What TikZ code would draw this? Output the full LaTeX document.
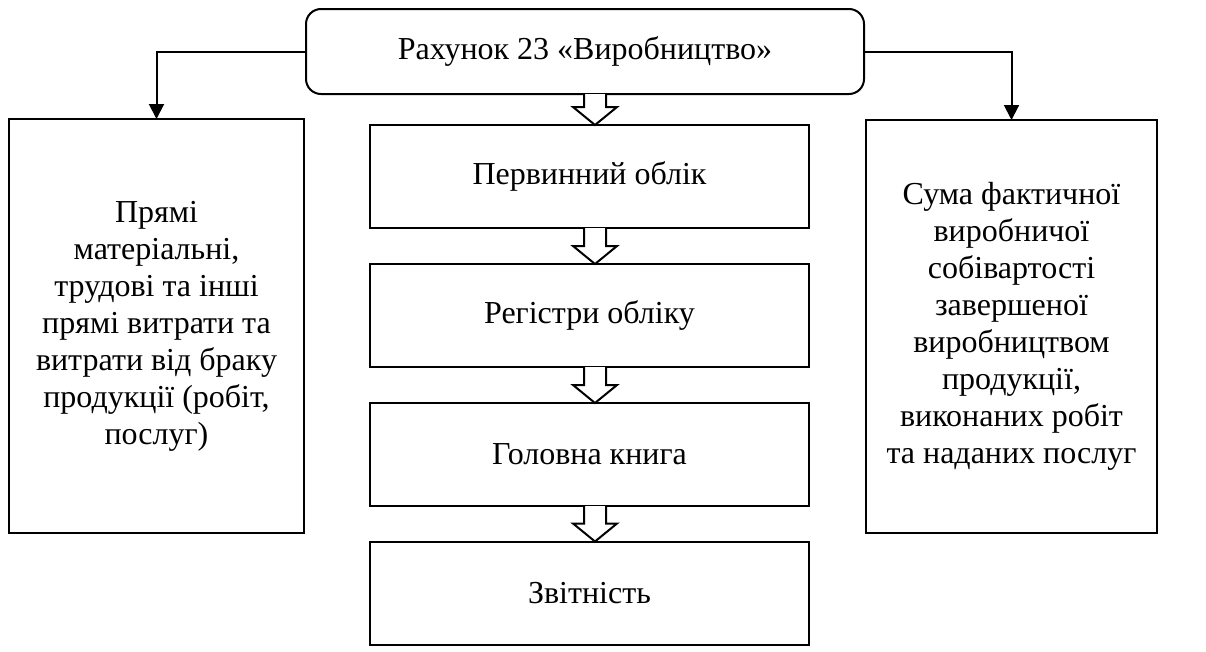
\documentclass[tikz,border=0pt]{standalone}
\usepackage{fontspec}
\setmainfont{Liberation Serif}
\usetikzlibrary{arrows.meta,calc}
\tikzset{
  box/.style={draw, line width=2pt, rectangle, inner sep=0pt, outer sep=0pt, align=center, font=\fontsize{32}{37}\selectfont},
  conn/.style={line width=2pt, -{Triangle[length=15pt,width=15pt]}},
  blockarr/.style={draw, line width=2pt, fill=white, line join=miter},
}
\begin{document}
\begin{tikzpicture}[x=1pt,y=-1pt]
\useasboundingbox (0,0) rectangle (1206,651);
\node[box, rounded corners=15pt, minimum width=558, minimum height=85] (top) at (585,51.5) {Рахунок 23 «Виробництво»};
\node[box, minimum width=295, minimum height=414] (left) at (156.5,326) {Прямі\\матеріальні,\\трудові та інші\\прямі витрати та\\витрати від браку\\продукції (робіт,\\послуг)};
\node[box, minimum width=291, minimum height=413] (right) at (1011.5,326.5) {Сума фактичної\\виробничої\\собівартості\\завершеної\\виробництвом\\продукції,\\виконаних робіт\\та наданих послуг};
\node[box, minimum width=439, minimum height=103] (p1) at (589.5,176.5) {Первинний облік};
\node[box, minimum width=439, minimum height=103] (p2) at (589.5,315.5) {Регістри обліку};
\node[box, minimum width=439, minimum height=103] (p3) at (589.5,454.5) {Головна книга};
\node[box, minimum width=439, minimum height=103] (p4) at (589.5,593) {Звітність};
\draw[conn] (top.west) -| (left.north);
\draw[conn] (top.east) -| (right.north);
\foreach \a/\b in {top/p1,p1/p2,p2/p3,p3/p4}{
  \path let \p1=(\a.south), \p2=(\b.north) in
    coordinate (s) at (595,\y1)
    coordinate (t) at (595,\y2);
  \draw[blockarr] ($(s)+(-11,0)$) -- ($(t)+(-11,-18)$) -- ($(t)+(-22,-18)$) -- (t) -- ($(t)+(22,-18)$) -- ($(t)+(11,-18)$) -- ($(s)+(11,0)$);
}
\end{tikzpicture}
\end{document}
